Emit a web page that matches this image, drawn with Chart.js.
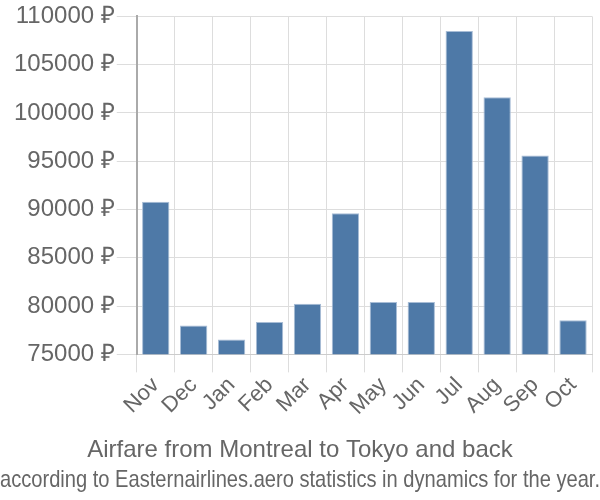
<!DOCTYPE html>
<html>
<head>
<meta charset="utf-8">
<script src="https://cdn.jsdelivr.net/npm/chart.js@4/dist/chart.umd.min.js"></script>
<style>
html,body{margin:0;padding:0;background:#fff;}
#wrap{width:600px;height:500px;}
</style>
</head>
<body>
<div id="wrap"><canvas id="c" width="600" height="500"></canvas></div>
<script>
const categories = ["Nov","Dec","Jan","Feb","Mar","Apr","May","Jun","Jul","Aug","Sep","Oct"];
const prices = [90810, 77990, 76550, 78360, 80250, 89620, 80420, 80420, 108490, 101620, 95590, 78530];
const yTicks = {min: 75000, max: 110000, step: 5000};
const currency = "₽";
const titleText = "Airfare from Montreal to Tokyo and back";
const subtitleText = "according to Easternairlines.aero statistics in dynamics for the year.";

Chart.defaults.font.family = "'Liberation Sans', Arial, sans-serif";
Chart.defaults.color = "#666";

new Chart(document.getElementById('c'), {
  type: 'bar',
  data: {
    labels: categories,
    datasets: [{
      data: prices,
      backgroundColor: '#4e79a7',
      borderColor: '#a8bdd6',
      borderWidth: 1
    }]
  },
  options: {
    responsive: false,
    animation: false,
    layout: {padding: {top: 4, right: 0, left: 0, bottom: 0}},
    plugins: {
      legend: {display: false},
      tooltip: {enabled: false},
      title: {
        display: true, text: titleText, position: 'bottom', weight: 2000,
        font: {size: 24, weight: 'normal'}, color: '#666',
        padding: {top: 16, bottom: 0}
      },
      subtitle: {
        display: true, text: subtitleText, position: 'bottom', weight: 2500,
        font: {size: 24, weight: 'normal'}, color: '#666',
        padding: {top: 1, bottom: 5}
      }
    },
    scales: {
      x: {
        grid: {color: '#ddd', tickLength: 18, drawOnChartArea: true},
        border: {color: '#ccc'},
        ticks: {font: {size: 22}, color: '#666', maxRotation: 45, minRotation: 45, padding: 0, autoSkip: false}
      },
      y: {
        min: yTicks.min, max: yTicks.max,
        grid: {color: '#ddd', tickLength: 20},
        border: {color: '#aaa', width: 2},
        ticks: {
          stepSize: yTicks.step, font: {size: 24}, color: '#666', padding: 2,
          callback: v => v + ' ' + currency
        },
        afterFit: s => { s.width += 12; }
      },
      yr: {
        position: 'right', display: true,
        grid: {display: false, drawTicks: false},
        border: {display: false},
        ticks: {display: false},
        afterFit: s => { s.width = 8; }
      }
    }
  }
});
</script>
</body>
</html>
